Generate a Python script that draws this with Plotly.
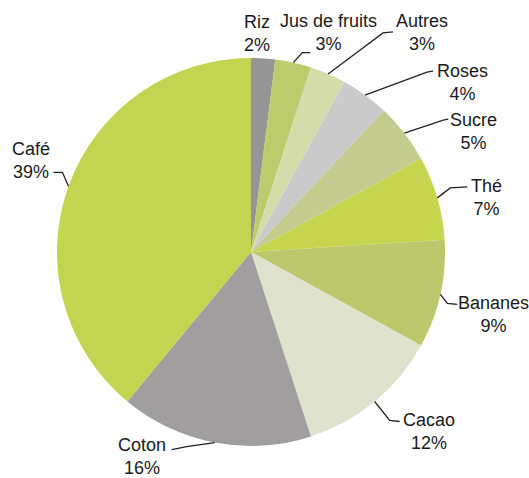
import math
import plotly.graph_objects as go

labels = ["Riz", "Jus de fruits", "Autres", "Roses", "Sucre", "Thé", "Bananes", "Cacao", "Coton", "Café"]
values = [2, 3, 3, 4, 5, 7, 9, 12, 16, 39]
colors = ["#959595", "#bccb6c", "#d4dcaa", "#cbcaca", "#c3cb8f", "#c5d54e", "#bdc86c", "#dfe2cd", "#a09e9e", "#c3d450"]

W, H = 529, 478
CX, CY, R = 251, 252, 194

# leader-line / label offsets (pixels, relative to slice edge point): bend, end, text centre
offsets = {
    "Riz": (None, None, (-6, -25)),
    "Jus de fruits": ((9, -10), (17, -10), (35, -30)),
    "Autres": ((55, -41), (65, -42), (94, -41)),
    "Roses": ((62, -23), (68, -24), (97, -13)),
    "Sucre": ((39, -13), (44, -14), (69, -2)),
    "Thé": ((13, -10), (30, -11), (49, 0)),
    "Bananes": ((7, 9), (17, 10), (53, 20)),
    "Cacao": ((15, 19), (25, 20), (54, 30)),
    "Coton": ((-28, 4), (-43, 7), (-73, 14)),
    "Café": ((-6, -14), (-15, -14), (-37, -26)),
}

fig = go.Figure(go.Pie(
    labels=labels, values=values, sort=False, direction="clockwise", rotation=0,
    marker=dict(colors=colors, line=dict(width=0)),
    textinfo="none", hoverinfo="label+percent",
    domain=dict(x=[(CX - R) / W, (CX + R) / W], y=[1 - (CY + R) / H, 1 - (CY - R) / H]),
    showlegend=False,
))

def px2paper(x, y):
    return x / W, 1 - y / H

total = sum(values)
cum = 0
shapes, annos = [], []
for lab, v in zip(labels, values):
    mid = (cum + v / 2) / total * 2 * math.pi
    cum += v
    px = CX + R * math.sin(mid)
    py = CY - R * math.cos(mid)
    bend, end, txt = offsets[lab]
    if bend is not None:
        pts = [(px, py), (px + bend[0], py + bend[1]), (px + end[0], py + end[1])]
        path = ""
        for i, (x, y) in enumerate(pts):
            a, b = px2paper(x, y)
            path += ("M" if i == 0 else " L") + f"{a:.5f},{b:.5f}"
        shapes.append(dict(type="path", path=path, xref="paper", yref="paper",
                           line=dict(color="#222222", width=1.3)))
    tx, ty = px2paper(px + txt[0], py + txt[1])
    annos.append(dict(x=tx, y=ty, xref="paper", yref="paper", showarrow=False,
                      text=f"{lab}<br>{round(100 * v / total)}%",
                      xanchor="center", yanchor="middle", align="center",
                      font=dict(family="Liberation Sans, Arial, sans-serif", size=18, color="#1a1a1a")))

fig.update_layout(
    width=W, height=H, margin=dict(l=0, r=0, t=0, b=0),
    paper_bgcolor="white", plot_bgcolor="white",
    shapes=shapes, annotations=annos,
)
fig.write_html("out.html")
